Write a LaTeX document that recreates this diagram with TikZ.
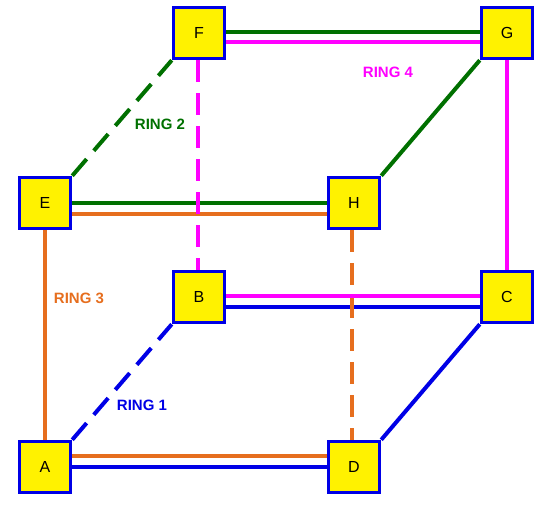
\documentclass[tikz,border=0pt]{standalone}
\usepackage{fontspec}
\setmainfont{Liberation Sans}
\usetikzlibrary{calc}

\definecolor{ringblue}{RGB}{0,0,230}
\definecolor{ringgreen}{RGB}{0,112,0}
\definecolor{ringorange}{RGB}{230,110,30}
\definecolor{ringmagenta}{RGB}{255,0,255}

\begin{document}
\begin{tikzpicture}[x=1pt, y=-1pt,
    vertex/.style={draw=ringblue, fill=yellow, line width=3.5pt, minimum size=51pt, inner sep=0pt, font=\fontsize{16}{18}\selectfont},
    ringlabel/.style={font=\fontsize{15}{17}\selectfont\bfseries},
    ringone/.style={ringblue, line width=4pt},
    ringtwo/.style={ringgreen, line width=4pt},
    ringthree/.style={ringorange, line width=3.6pt},
    ringfour/.style={ringmagenta, line width=4pt},
    broken/.style={dash pattern=on 22pt off 11pt}]
  \useasboundingbox (0,0) rectangle (552,511);

  \node[vertex] at (45,467) (A) {A};
  \node[vertex] at (199,297) (B) {B};
  \node[vertex] at (507,297) (C) {C};
  \node[vertex] at (354,467) (D) {D};
  \node[vertex] at (45,203) (E) {E};
  \node[vertex] at (199,33) (F) {F};
  \node[vertex] at (507,33) (G) {G};
  \node[vertex] at (354,203) (H) {H};

  % ring 1
  \draw[ringone] (A.east) -- (D.west);
  \draw[ringone] ($(B.east)+(0,10)$) -- ($(C.west)+(0,10)$);
  \draw[ringone] (D.north east) -- (C.south west);
  \draw[ringone, broken] (A.north east) -- (B.south west);

  % ring 2
  \draw[ringtwo] (E.east) -- (H.west);
  \draw[ringtwo] ($(F.east)+(0,-1)$) -- ($(G.west)+(0,-1)$);
  \draw[ringtwo] (H.north east) -- (G.south west);
  \draw[ringtwo, broken] (E.north east) -- (F.south west);

  % ring 3
  \draw[ringthree] ($(A.east)+(0,-11)$) -- ($(D.west)+(0,-11)$);
  \draw[ringthree] ($(E.east)+(0,11)$) -- ($(H.west)+(0,11)$);
  \draw[ringthree] (E.south) -- (A.north);
  \draw[ringthree, broken] ($(H.south)+(-2,0)$) -- ($(D.north)+(-2,0)$);

  % ring 4
  \draw[ringfour] ($(F.east)+(0,9)$) -- ($(G.west)+(0,9)$);
  \draw[ringfour] ($(B.east)+(0,-1)$) -- ($(C.west)+(0,-1)$);
  \draw[ringfour] (G.south) -- (C.north);
  \draw[ringfour, broken] ($(F.south)+(-1,0)$) -- ($(B.north)+(-1,0)$);

  \node[ringlabel, text=ringblue] at (142,405) (labelone) {RING 1};
  \node[ringlabel, text=ringgreen] at (160,124) (labeltwo) {RING 2};
  \node[ringlabel, text=ringorange] at (79,298) (labelthree) {RING 3};
  \node[ringlabel, text=ringmagenta] at (388,72) (labelfour) {RING 4};
\end{tikzpicture}
\end{document}
